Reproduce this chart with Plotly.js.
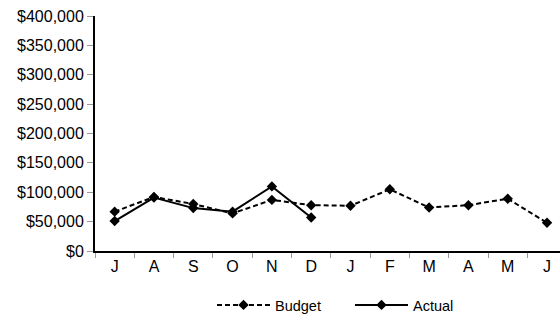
<!DOCTYPE html>
<html><head><meta charset="utf-8">
<script src="https://cdn.plot.ly/plotly-3.0.1.min.js"></script>
<style>html,body{margin:0;padding:0;overflow:hidden;background:#fff}</style>
</head><body><div id="chart" style="width:560px;height:320px"></div>
<script>
const months = ["J","A","S","O","N","D","J","F","M","A","M","J"];
const budget = [67000, 92000, 80000, 64000, 87000, 78000, 77000, 105000, 74000, 78000, 89000, 48000];
const actual = [51000, 91000, 73000, 67000, 110000, 57000];
const yTicks = [0, 50000, 100000, 150000, 200000, 250000, 300000, 350000, 400000];

const idx = months.map((m, i) => i);
const font = {family: "Liberation Sans, Arial, sans-serif", color: "#000"};
const traces = [
  {x: idx, y: budget, name: "Budget", type: "scatter", mode: "lines+markers",
   line: {color: "#000", width: 2, dash: "5px,3px"},
   marker: {symbol: "diamond", size: 8, color: "#000"}},
  {x: idx.slice(0, actual.length), y: actual, name: "Actual", type: "scatter", mode: "lines+markers",
   line: {color: "#000", width: 2},
   marker: {symbol: "diamond", size: 8, color: "#000"}}
];
const layout = {
  width: 560, height: 320,
  margin: {l: 95, r: 0, t: 16, b: 69},
  paper_bgcolor: "#fff", plot_bgcolor: "#fff",
  font: Object.assign({size: 15}, font),
  showlegend: true,
  legend: {orientation: "h", x: 212/560, xref: "container", xanchor: "left",
           y: 1 - 305/320, yref: "container", yanchor: "middle",
           font: Object.assign({size: 14.5}, font), itemwidth: 53,
           entrywidth: 70, entrywidthmode: "pixels"},
  xaxis: {
    range: [-0.5, 11.33], tickmode: "array", tickvals: idx, ticktext: months,
    ticks: "", showgrid: false, zeroline: false,
    showline: true, linecolor: "#000", linewidth: 2,
    tickfont: Object.assign({size: 16}, font),
    minor: {tickmode: "linear", tick0: 0.5, dtick: 1, ticks: "outside", ticklen: 5, tickcolor: "#999", tickwidth: 1, showgrid: false}
  },
  yaxis: {
    range: [0, 400000], tickmode: "array", tickvals: yTicks,
    tickformat: "$,.0f", ticks: "outside", ticklen: 6, tickcolor: "#999",
    showgrid: false, zeroline: false, showline: true, linecolor: "#000", linewidth: 2,
    tickfont: Object.assign({size: 16}, font)
  }
};
Plotly.newPlot("chart", traces, layout, {displayModeBar: false, staticPlot: true});
</script></body></html>
